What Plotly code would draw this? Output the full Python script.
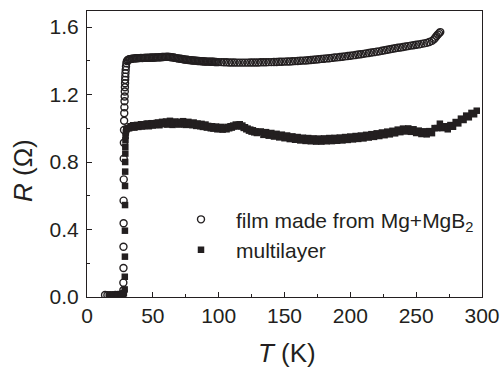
import plotly.graph_objects as go

# Temperature (K) and resistance (Ohm) for the film made from Mg+MgB2
film_T = [
    13.7, 15.5, 17.5, 19.5, 21.5, 23.5, 25.5, 27.0,
    27.6, 27.6, 27.7, 27.7, 27.8, 27.8, 27.9, 27.9, 28.0, 28.1,
    28.2, 28.3, 28.4, 28.5, 28.6, 28.7, 28.8, 28.9, 29.0, 29.1,
    29.2, 29.4, 29.6, 29.9, 30.3, 30.9, 31.7, 32.4,
    33, 34, 35, 36, 37, 38, 39, 40, 41, 42, 43, 44, 45, 46, 47, 48, 49, 50,
    51, 52, 53, 54, 55, 56, 57, 58, 59, 60, 61, 62, 63, 64, 65, 66, 67, 68,
    69, 70, 71, 72, 73, 74, 75, 76, 77, 78, 79, 80, 81, 82, 83, 84, 85, 86,
    87, 88, 89, 90, 91, 92, 93, 94, 95, 96, 97, 98, 99, 100,
    102, 104, 106, 108, 110, 112, 114, 116, 118, 120, 122, 124, 126, 128, 130, 132, 134, 136, 138, 140,
    142, 144, 146, 148, 150, 152, 154, 156, 158, 160, 162, 164, 166, 168, 170, 172, 174, 176, 178, 180,
    182, 184, 186, 188, 190, 192, 194, 196, 198, 200, 202, 204, 206, 208, 210, 212, 214, 216, 218, 220,
    222, 224, 226, 228, 230, 232, 234, 236, 238, 240, 242, 244, 246, 248, 250, 252, 254, 256, 258, 260, 262,
    263.5, 264.5, 265.5, 266.5, 267.5, 268.3,
]
film_R = [
    0.012, 0.011, 0.011, 0.011, 0.012, 0.012, 0.014, 0.018,
    0.040, 0.085, 0.172, 0.298, 0.437, 0.571, 0.697, 0.820, 0.914, 0.990,
    1.045, 1.089, 1.124, 1.160, 1.188, 1.218, 1.243, 1.267, 1.287, 1.306,
    1.326, 1.346, 1.366, 1.385, 1.398, 1.405, 1.408, 1.409,
    1.410, 1.412, 1.413, 1.414, 1.415, 1.415, 1.416, 1.416, 1.417, 1.416, 1.417, 1.417, 1.418, 1.417,
    1.418, 1.418, 1.419, 1.418, 1.419, 1.419, 1.420, 1.420, 1.421, 1.421, 1.422, 1.422, 1.423, 1.423,
    1.424, 1.423, 1.422, 1.421, 1.420, 1.419, 1.417, 1.416, 1.414, 1.413, 1.412, 1.411, 1.409, 1.408,
    1.407, 1.406, 1.405, 1.404, 1.403, 1.402, 1.402, 1.401, 1.400, 1.399, 1.399, 1.398, 1.397, 1.397,
    1.396, 1.396, 1.395, 1.395, 1.395, 1.394, 1.394, 1.394, 1.393, 1.393, 1.392, 1.392,
    1.392, 1.391, 1.391, 1.390, 1.390, 1.390, 1.389, 1.389, 1.389, 1.389,
    1.389, 1.390, 1.390, 1.390, 1.390, 1.391, 1.391, 1.391, 1.392, 1.392,
    1.393, 1.393, 1.394, 1.394, 1.395, 1.396, 1.396, 1.397, 1.398, 1.399,
    1.400, 1.401, 1.402, 1.403, 1.405, 1.406, 1.408, 1.409, 1.411, 1.412,
    1.414, 1.415, 1.417, 1.419, 1.420, 1.422, 1.424, 1.426, 1.428, 1.430,
    1.432, 1.434, 1.437, 1.439, 1.441, 1.444, 1.446, 1.449, 1.451, 1.454,
    1.456, 1.459, 1.462, 1.465, 1.468, 1.471, 1.474, 1.477, 1.479, 1.482,
    1.485, 1.487, 1.490, 1.492, 1.495, 1.497, 1.500, 1.503, 1.506, 1.511, 1.518,
    1.527, 1.537, 1.547, 1.556, 1.564, 1.570,
]

# Temperature (K) and resistance (Ohm) for the multilayer
multi_T = [
    16.5, 17.5, 18.5, 19.5, 20.5, 21.5, 22.5, 23.5, 24.5, 25.5, 26.5, 27.3, 28.0,
    28.6, 28.7, 28.8, 28.8, 28.9, 28.9, 29.0, 29.0, 29.1, 29.1, 29.2, 29.3, 29.5, 29.8, 30.3, 31.0,
    32, 33, 34, 35, 36, 37, 38, 39, 40, 41, 42, 43, 44, 45, 46, 47, 48, 49, 50, 51,
    52, 53, 54, 55, 56, 57, 58, 59, 60, 61, 62, 63, 64, 65, 66, 67, 68, 69, 70, 71,
    72, 73, 74, 75, 76, 77, 78, 79, 80, 81, 82, 83, 84, 85, 86, 87, 88, 89, 90, 91,
    92, 93, 94, 95, 96, 97, 98, 99, 100, 101, 102, 103, 104, 105, 106, 107, 108, 109, 110, 111,
    112, 113, 114, 115, 116, 117, 118, 119, 120, 121, 122, 123, 124, 125, 126, 127, 128, 129, 130,
    132, 134, 136, 138, 140, 142, 144, 146, 148, 150, 152, 154, 156, 158, 160, 162, 164, 166, 168, 170,
    172, 174, 176, 178, 180, 182, 184, 186, 188, 190, 192, 194, 196, 198, 200, 202, 204, 206, 208, 210,
    212, 214, 216, 218, 220, 222, 224, 226, 228, 230, 232, 234, 236, 238, 240, 242, 244, 246, 248, 250,
    252, 254, 256, 258, 260, 262, 264, 266, 268, 270, 272, 274, 276, 278, 280, 282, 284, 286, 288, 290,
    292, 294, 296,
]
multi_R = [
    0.008, 0.008, 0.008, 0.009, 0.009, 0.009, 0.010, 0.010, 0.011, 0.012, 0.013, 0.016, 0.022,
    0.045, 0.120, 0.239, 0.393, 0.545, 0.658, 0.743, 0.800, 0.850, 0.890, 0.930, 0.955, 0.975, 0.990, 0.998, 1.002,
    1.000, 1.012, 1.006, 1.018, 1.004, 1.014, 1.020, 1.008, 1.016, 1.024,
    1.010, 1.020, 1.014, 1.026, 1.028, 1.012, 1.022, 1.030, 1.016, 1.026,
    1.020, 1.032, 1.034, 1.018, 1.028, 1.038, 1.024, 1.030, 1.040, 1.022,
    1.036, 1.044, 1.028, 1.020, 1.034, 1.040, 1.026, 1.036, 1.022, 1.038,
    1.030, 1.042, 1.024, 1.020, 1.032, 1.038, 1.022, 1.030, 1.018, 1.034,
    1.026, 1.014, 1.028, 1.020, 1.012, 1.026, 1.008, 1.018, 1.022, 1.004,
    1.014, 1.008, 1.000, 1.012, 0.998, 1.006, 1.010, 0.994, 1.002, 0.996,
    1.008, 0.992, 1.000, 1.004, 0.994, 1.008, 1.000, 1.012, 1.004, 1.016,
    1.010, 1.022, 1.014, 1.020, 1.024, 1.010, 1.016, 1.002, 1.006, 0.994,
    0.998, 0.986, 0.992, 0.980, 0.988, 0.976, 0.982, 0.972, 0.978,
    0.981, 0.961, 0.977, 0.956, 0.972, 0.951, 0.967, 0.946, 0.962, 0.941,
    0.957, 0.936, 0.952, 0.932, 0.948, 0.928, 0.944, 0.925, 0.942, 0.923,
    0.940, 0.921, 0.939, 0.921, 0.940, 0.923, 0.942, 0.924, 0.943, 0.926,
    0.945, 0.928, 0.948, 0.931, 0.951, 0.934, 0.954, 0.937, 0.957, 0.940,
    0.961, 0.945, 0.965, 0.949, 0.970, 0.954, 0.975, 0.959, 0.980, 0.964,
    0.985, 0.970, 0.992, 0.977, 0.998, 0.981, 0.999, 0.979, 0.994, 0.972,
    0.986, 0.966, 0.982, 0.964, 0.983, 0.971, 1.001, 1.001, 1.027, 1.001,
    1.012, 0.994, 1.019, 1.009, 1.037, 1.029, 1.057, 1.049, 1.075, 1.065,
    1.091, 1.083, 1.104,
]

assert len(film_T) == len(film_R), (len(film_T), len(film_R))
assert len(multi_T) == len(multi_R), (len(multi_T), len(multi_R))

INK = "#231f20"
FONT = "Liberation Sans, Arial, sans-serif"

fig = go.Figure()
fig.add_trace(go.Scatter(
    x=film_T, y=film_R, mode="markers",
    name="film made from Mg+MgB<sub>2</sub>",
    marker=dict(symbol="circle-open", size=7, color=INK, line=dict(width=1.4)),
))
fig.add_trace(go.Scatter(
    x=multi_T, y=multi_R, mode="markers",
    name="multilayer",
    marker=dict(symbol="square", size=6.5, color=INK),
))

axis_common = dict(
    showline=True, linecolor=INK, linewidth=1, mirror=True,
    ticks="inside", ticklen=5, tickwidth=1, tickcolor=INK,
    showgrid=False, zeroline=False, automargin=False,
    tickfont=dict(family=FONT, size=21, color=INK),
)

fig.update_xaxes(
    range=[0, 300], dtick=50, tick0=0,
    minor=dict(dtick=25, ticks="inside", ticklen=3, tickcolor=INK),
    **axis_common,
)
fig.update_yaxes(
    range=[0, 1.695], dtick=0.4, tick0=0, tickformat=".1f",
    minor=dict(dtick=0.2, ticks="inside", ticklen=3, tickcolor=INK),
    ticklabelstandoff=3,
    **axis_common,
)

fig.update_layout(
    width=500, height=369,
    margin=dict(l=87, r=18, t=11, b=72),
    paper_bgcolor="white", plot_bgcolor="white",
    font=dict(family=FONT, color=INK),
    showlegend=True,
    legend=dict(
        x=0.2, y=0.342, xanchor="left", yanchor="top",
        bgcolor="rgba(0,0,0,0)", borderwidth=0,
        itemwidth=60, font=dict(family=FONT, size=21, color=INK),
    ),
    annotations=[
        dict(text="<i>R</i> (Ω)", xref="paper", yref="paper",
             x=(23 - 87) / 395, y=(297 - 171) / 286, textangle=-90,
             showarrow=False, xanchor="center", yanchor="middle",
             font=dict(family=FONT, size=26, color=INK)),
        dict(text="<i>T</i> (K)", xref="paper", yref="paper",
             x=(286.5 - 87) / 395, y=(297 - 353) / 286,
             showarrow=False, xanchor="center", yanchor="middle",
             font=dict(family=FONT, size=26, color=INK)),
    ],
)

fig.write_html("out.html")
